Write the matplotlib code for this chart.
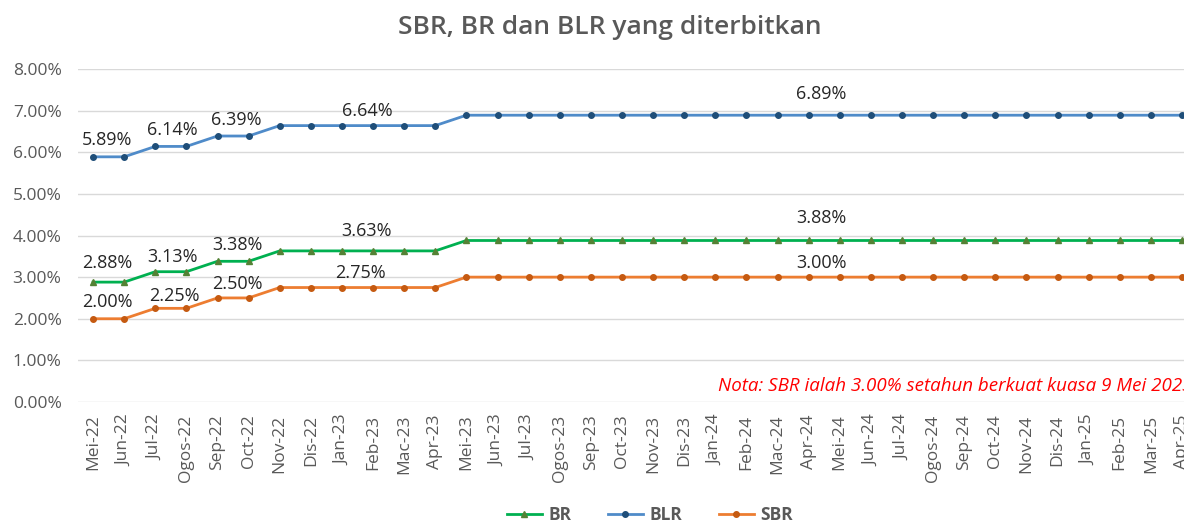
import matplotlib
matplotlib.use("Agg")
import matplotlib.pyplot as plt
from matplotlib.ticker import FuncFormatter

plt.rcParams['font.family'] = ['Open Sans', 'DejaVu Sans']

months = ["Mei-22", "Jun-22", "Jul-22", "Ogos-22", "Sep-22", "Oct-22", "Nov-22", "Dis-22",
          "Jan-23", "Feb-23", "Mac-23", "Apr-23", "Mei-23", "Jun-23", "Jul-23", "Ogos-23",
          "Sep-23", "Oct-23", "Nov-23", "Dis-23", "Jan-24", "Feb-24", "Mac-24", "Apr-24",
          "Mei-24", "Jun-24", "Jul-24", "Ogos-24", "Sep-24", "Oct-24", "Nov-24", "Dis-24",
          "Jan-25", "Feb-25", "Mar-25", "Apr-25"]

blr = [5.89, 5.89, 6.14, 6.14, 6.39, 6.39] + [6.64] * 6 + [6.89] * 24
br = [2.88, 2.88, 3.13, 3.13, 3.38, 3.38] + [3.63] * 6 + [3.88] * 24
sbr = [2.00, 2.00, 2.25, 2.25, 2.50, 2.50] + [2.75] * 6 + [3.00] * 24

yticks = [0, 1, 2, 3, 4, 5, 6, 7, 8]

# label placement (x in category index units, series index, y offset in pixels)
blr_labels = [(0.45, 1, 17), (2.55, 2, 16), (4.6, 4, 16), (8.8, 6, 15), (23.4, 12, 21)]
br_labels = [(0.45, 1, 19), (2.55, 2, 15), (4.65, 4, 16), (8.8, 6, 20), (23.4, 12, 22)]
sbr_labels = [(0.45, 1, 17), (2.6, 2, 12), (4.65, 4, 14), (8.6, 6, 15), (23.4, 12, 14)]

W, H = 1184, 522
fig = plt.figure(figsize=(W / 100, H / 100), dpi=100)
ax = fig.add_axes([77.5 / W, (H - 402) / H, 1120 / W, 333 / H])

x = list(range(len(months)))
gray = "#595959"

l_br, = ax.plot(x, br, color="#00B050", lw=2, marker="^", ms=4.5,
                mfc="#548235", mec="#548235", label="BR", zorder=3)
l_blr, = ax.plot(x, blr, color="#4F8BC9", lw=2, marker="o", ms=4,
                 mfc="#1F4E79", mec="#1F4E79", label="BLR", zorder=3)
l_sbr, = ax.plot(x, sbr, color="#ED7D31", lw=2, marker="o", ms=4,
                 mfc="#C55A11", mec="#C55A11", label="SBR", zorder=3)

for series, labels in ((blr, blr_labels), (br, br_labels), (sbr, sbr_labels)):
    for xi, idx, dy in labels:
        v = series[idx]
        ax.annotate(f"{v:.2f}%", xy=(xi, v), xytext=(0, dy * 0.72), textcoords="offset points",
                    ha="center", va="center", fontsize=13, color="#262626")

ax.set_xlim(-0.5, len(months) - 0.5)
ax.set_ylim(0, 8)
ax.set_yticks(yticks)
ax.yaxis.set_major_formatter(FuncFormatter(lambda v, p: f"{v:.2f}%"))
ax.set_xticks(x)
ax.set_xticklabels(months, rotation=90, ha="center", va="top")
ax.tick_params(axis="both", length=0, colors=gray, labelsize=12.5)
ax.tick_params(axis="x", pad=9)
ax.tick_params(axis="y", pad=11.5)
ax.grid(axis="y", color="#D9D9D9", lw=1)
ax.set_axisbelow(True)
for s in ax.spines.values():
    s.set_visible(False)

fig.text(718 / W, 1 - 386 / H, "Nota: SBR ialah 3.00% setahun berkuat kuasa 9 Mei 2023",
         ha="left", va="center", fontsize=13.5, color="#FF0000", style="italic")

fig.text(610 / W, 1 - 28 / H, "SBR, BR dan BLR yang diterbitkan", ha="center", va="center",
         fontsize=19, fontweight="semibold", color=gray)

leg = fig.legend(handles=[l_br, l_blr, l_sbr], loc="center", bbox_to_anchor=(650 / W, 7 / H),
                 ncol=3, frameon=False, fontsize=12.5, handlelength=2.0, columnspacing=2.1,
                 handletextpad=0.4)
for t in leg.get_texts():
    t.set_color(gray)
    t.set_fontweight("bold")

fig.savefig("out.png", dpi=100)
